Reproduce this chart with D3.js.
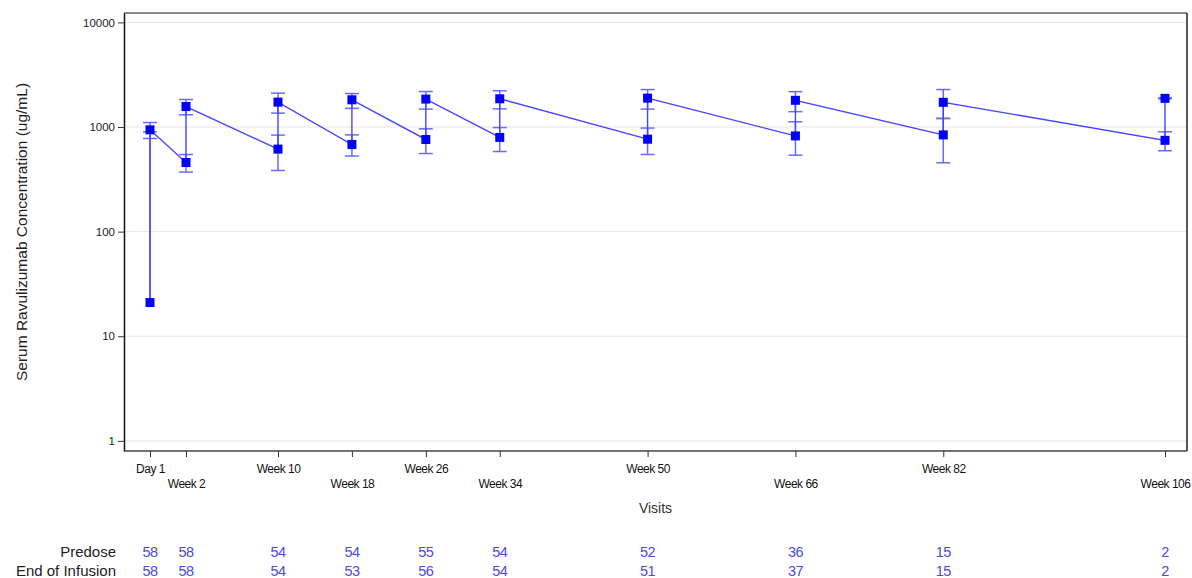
<!DOCTYPE html>
<html>
<head>
<meta charset="utf-8">
<script src="https://cdn.jsdelivr.net/npm/d3@7"></script>
<style>
    body { margin: 0; background: #fff; }
    text { font-family: "Liberation Sans", Arial, sans-serif; }
</style>
</head>
<body>
<svg id="chart" width="1192" height="578"></svg>
<script>
const VISITS = ["Day 1", "Week 2", "Week 10", "Week 18", "Week 26", "Week 34", "Week 50", "Week 66", "Week 82", "Week 106"];
const VISIT_WEEKS = [0, 2, 10, 18, 26, 34, 50, 66, 82, 106];

// predose (trough) mean and error bar limits
const PREDOSE_MEAN = [21, 458, 615, 680, 760, 795, 765, 822, 841, 746];
const PREDOSE_LOW = [null, 371, 384, 528, 558, 583, 546, 538, 455, 593];
const PREDOSE_HIGH = [900, 546, 837, 841, 961, 988, 977, 1122, 1208, 900];

// end of infusion (peak)
const EOI_MEAN = [940, 1570, 1730, 1820, 1850, 1862, 1888, 1800, 1722, 1880];
const EOI_LOW = [777, 1309, 1358, 1508, 1483, 1492, 1483, 1402, 1208, 1860];
const EOI_HIGH = [1104, 1833, 2106, 2090, 2183, 2223, 2281, 2178, 2281, 1900];

const N_PREDOSE = [58, 58, 54, 54, 55, 54, 52, 36, 15, 2];
const N_EOI = [58, 58, 54, 53, 56, 54, 51, 37, 15, 2];

const Y_TICKS = [1, 10, 100, 1000, 10000];

const svg = d3.select("#chart");
const plotLeft = 124, plotRight = 1187, plotTop = 13, plotBottom = 451;

// visit axis is stretched for the first two visits, linear afterwards
let x = d3.scaleLinear()
    .domain([0, 2, 10, 106])
    .range([150, 186, 278, 1165]);

let y = d3.scaleLog()
    .domain([0.8, 12300])
    .range([plotBottom, plotTop]);

// gridlines
svg.append("g")
    .selectAll("line")
    .data(Y_TICKS)
    .enter()
    .append("line")
    .attr("x1", plotLeft).attr("x2", plotRight)
    .attr("y1", d => y(d)).attr("y2", d => y(d))
    .attr("stroke", "#e6e6e6")
    .attr("stroke-width", 1);

// frame
svg.append("line").attr("x1", plotLeft).attr("x2", plotRight).attr("y1", plotTop).attr("y2", plotTop)
    .attr("stroke", "#8a8a8a").attr("stroke-width", 2);
svg.append("line").attr("x1", plotRight).attr("x2", plotRight).attr("y1", plotTop).attr("y2", plotBottom)
    .attr("stroke", "#222").attr("stroke-width", 1.5);

// y axis
let yAxis = svg.append("g")
    .attr("transform", `translate(${plotLeft},0)`)
    .call(d3.axisLeft(y).tickValues(Y_TICKS).tickFormat(d3.format("d")).tickSize(6).tickSizeOuter(0).tickPadding(3));
yAxis.select(".domain").attr("stroke", "#111").attr("stroke-width", 1.5);
yAxis.selectAll(".tick line").attr("stroke", "#333");
yAxis.selectAll("text").attr("font-size", "11.5px").attr("fill", "#222")
    .attr("font-family", "Liberation Sans, Arial, sans-serif");

// x axis
let xAxis = svg.append("g")
    .attr("transform", `translate(0,${plotBottom})`)
    .call(d3.axisBottom(x).tickValues(VISIT_WEEKS).tickFormat((d, i) => VISITS[i]).tickSize(6).tickSizeOuter(0).tickPadding(7));
xAxis.select(".domain").attr("stroke", "#444").attr("stroke-width", 1.5)
    .attr("d", `M${plotLeft},0H${plotRight}`);
xAxis.selectAll(".tick line").attr("stroke", "#333");
xAxis.selectAll("text")
    .attr("font-size", "12px")
    .attr("fill", "#111")
    .attr("font-family", "Liberation Sans, Arial, sans-serif")
    .attr("letter-spacing", "-0.5px")
    .attr("dy", (d, i) => i % 2 === 0 ? "0.71em" : "1.98em");

// axis titles
svg.append("text")
    .attr("x", (plotLeft + plotRight) / 2)
    .attr("y", 513)
    .attr("text-anchor", "middle")
    .attr("font-size", "14px")
    .attr("fill", "#333")
    .text("Visits");

svg.append("text")
    .attr("transform", `translate(27,${(plotTop + plotBottom) / 2}) rotate(-90)`)
    .attr("text-anchor", "middle")
    .attr("font-size", "15.5px")
    .attr("fill", "#222")
    .text("Serum Ravulizumab Concentration (ug/mL)");

// build point list in time order: predose then end of infusion for each visit
let points = [];
VISIT_WEEKS.forEach(function(w, i){
    points.push({week: w, mean: PREDOSE_MEAN[i], low: PREDOSE_LOW[i], high: PREDOSE_HIGH[i]});
    points.push({week: w, mean: EOI_MEAN[i], low: EOI_LOW[i], high: EOI_HIGH[i]});
});

const lineColor = "#4545ff";

// error bars
let bars = svg.append("g").attr("stroke", "#6a6aff").attr("stroke-width", 1.5);
points.forEach(function(p){
    let lo = p.low === null ? p.mean : p.low;
    bars.append("line")
        .attr("x1", x(p.week)).attr("x2", x(p.week))
        .attr("y1", y(lo)).attr("y2", y(p.high));
    [p.low, p.high].forEach(function(v){
        if (v === null) return;
        bars.append("line")
            .attr("x1", x(p.week) - 7).attr("x2", x(p.week) + 7)
            .attr("y1", y(v)).attr("y2", y(v));
    });
});

// connecting line
svg.append("path")
    .datum(points)
    .attr("fill", "none")
    .attr("stroke", lineColor)
    .attr("stroke-width", 1.4)
    .attr("d", d3.line().x(d => x(d.week)).y(d => y(d.mean)));

// markers
svg.append("g")
    .selectAll("rect")
    .data(points)
    .enter()
    .append("rect")
    .attr("x", d => x(d.week) - 4.5)
    .attr("y", d => y(d.mean) - 4.5)
    .attr("width", 9)
    .attr("height", 9)
    .attr("fill", "#0000ff");

// N table
svg.append("text").attr("x", 116).attr("y", 557).attr("text-anchor", "end")
    .attr("font-size", "15px").attr("fill", "#222").text("Predose");
svg.append("text").attr("x", 116).attr("y", 576).attr("text-anchor", "end")
    .attr("font-size", "15px").attr("fill", "#222").text("End of Infusion");

[[N_PREDOSE, 557], [N_EOI, 576]].forEach(function(row){
    svg.append("g")
        .selectAll("text")
        .data(row[0])
        .enter()
        .append("text")
        .attr("x", (d, i) => x(VISIT_WEEKS[i]))
        .attr("y", row[1])
        .attr("text-anchor", "middle")
        .attr("font-size", "14.5px")
        .attr("letter-spacing", "-0.6px")
        .attr("fill", "#4a4ae6")
        .text(d => d);
});
</script>
</body>
</html>
